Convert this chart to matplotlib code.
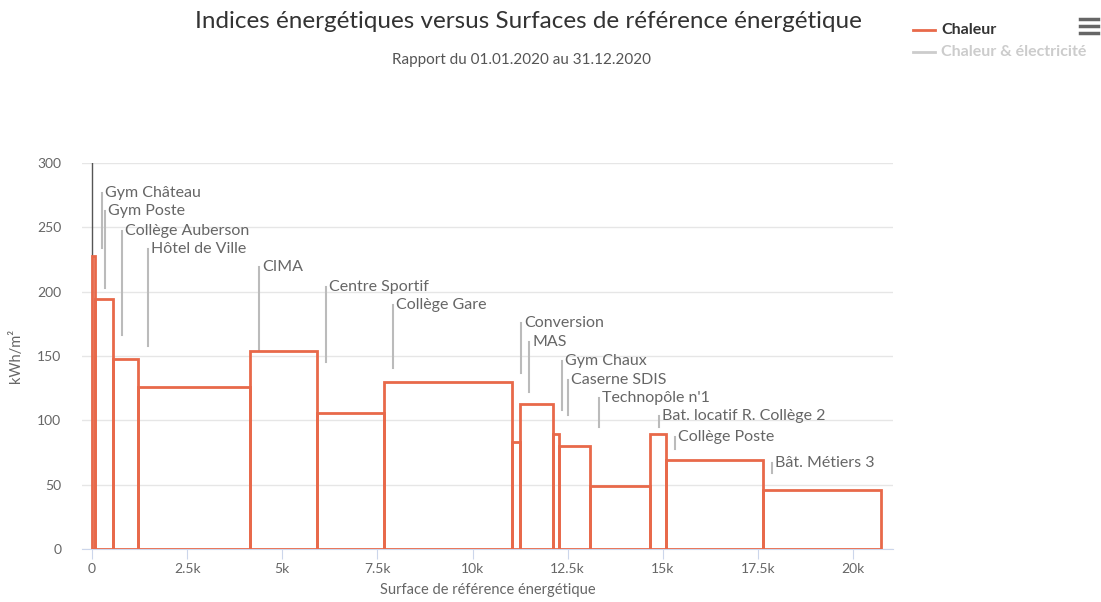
import matplotlib.pyplot as plt
import matplotlib.transforms as mtransforms
import numpy as np

plt.rcParams['font.family'] = ['Lato', 'DejaVu Sans']

# Buildings, their reference surface (m2) and energy index (kWh/m2)
buildings = ["Gym Château", "Gym Poste", "Collège Auberson", "Hôtel de Ville", "CIMA",
             "Centre Sportif", "Collège Gare", "Conversion", "MAS", "Gym Chaux",
             "Caserne SDIS", "Technopôle n'1", "Bat. locatif R. Collège 2",
             "Collège Poste", "Bât. Métiers 3"]
surfaces = [80, 470, 660, 2940, 1760, 1760, 3360, 210, 870, 160, 810, 1580, 420, 2550, 3100]
indices = [228, 194, 148, 126, 154, 106, 130, 83, 113, 89, 80, 49, 89, 69, 46]

# data label placement (kWh/m2)
label_y = [277, 263, 247, 233, 219, 204, 190, 176, 161, 146, 131, 117, 103, 87, 67]
leader_end = [234, 203, 166, 158, 155, 145, 141, 137, 122, 108, 104, 95, 95, 78, 59]

xticks = [0, 2500, 5000, 7500, 10000, 12500, 15000, 17500, 20000]
xtick_labels = ["0", "2.5k", "5k", "7.5k", "10k", "12.5k", "15k", "17.5k", "20k"]
yticks = [0, 50, 100, 150, 200, 250, 300]

color = '#e8694a'

fig = plt.figure(figsize=(11.01, 6.02), dpi=100)
ax = fig.add_axes([82/1101, 53/602, (893-82)/1101, (549-163)/602])

lefts = np.concatenate([[0], np.cumsum(surfaces)[:-1]])
ax.bar(lefts, indices, width=surfaces, align='edge', facecolor='none',
       edgecolor=color, linewidth=2, zorder=3)

ax.set_xlim(-263, 21050)
ax.set_ylim(0, 300)
ax.set_yticks(yticks)
ax.set_xticks(xticks)
ax.set_xticklabels(xtick_labels)
ax.grid(axis='y', color='#e6e6e6', linewidth=1, zorder=0)
ax.set_axisbelow(True)
for s in ['top', 'right', 'left']:
    ax.spines[s].set_visible(False)
ax.spines['bottom'].set_color('#ccd6eb')
ax.plot([0, 0], [0, 300], color='#555555', linewidth=1, zorder=2)
ax.tick_params(axis='y', length=0, labelcolor='#666666', labelsize=10, pad=15)
ax.tick_params(axis='x', length=7, color='#ccd6eb', labelcolor='#666666', labelsize=10, pad=3)

ax.set_ylabel('kWh/m²', color='#666666', fontsize=10.5, labelpad=10)
ax.set_xlabel('Surface de référence énergétique', color='#666666', fontsize=10.5, labelpad=6)

# data labels with leader lines
line_off = mtransforms.ScaledTranslation(9.5/100, 0, fig.dpi_scale_trans)
text_off = mtransforms.ScaledTranslation(12.5/100, 0, fig.dpi_scale_trans)
for name, left, ly, le in zip(buildings, lefts, label_y, leader_end):
    ax.plot([left, left], [ly, le], color='#bbbbbb', linewidth=1.5,
            transform=ax.transData + line_off, zorder=2)
    ax.text(left, ly, name, color='#666666', fontsize=11.5, va='center', ha='left',
            transform=ax.transData + text_off, zorder=4)

fig.text(528/1101, 1 - 22/602, 'Indices énergétiques versus Surfaces de référence énergétique',
         ha='center', va='center', fontsize=17.5, color='#333333')
fig.text(522/1101, 1 - 60/602, 'Rapport du 01.01.2020 au 31.12.2020',
         ha='center', va='center', fontsize=11, color='#555555')

# legend
fig.add_artist(plt.Line2D([913/1101, 935/1101], [1 - 30/602, 1 - 30/602], color=color, linewidth=2))
fig.text(941/1101, 1 - 30/602, 'Chaleur', ha='left', va='center', fontsize=11.5,
         fontweight='bold', color='#333333')
fig.add_artist(plt.Line2D([913/1101, 935/1101], [1 - 52/602, 1 - 52/602], color='#cccccc', linewidth=2))
fig.text(941/1101, 1 - 52/602, 'Chaleur & électricité', ha='left', va='center', fontsize=11.5,
         fontweight='bold', color='#cccccc')

# export menu icon
for yy in [19, 26, 33]:
    fig.add_artist(plt.Line2D([1080/1101, 1098/1101], [1 - yy/602, 1 - yy/602],
                              color='#666666', linewidth=2.5))

fig.savefig('out.png', dpi=100)
